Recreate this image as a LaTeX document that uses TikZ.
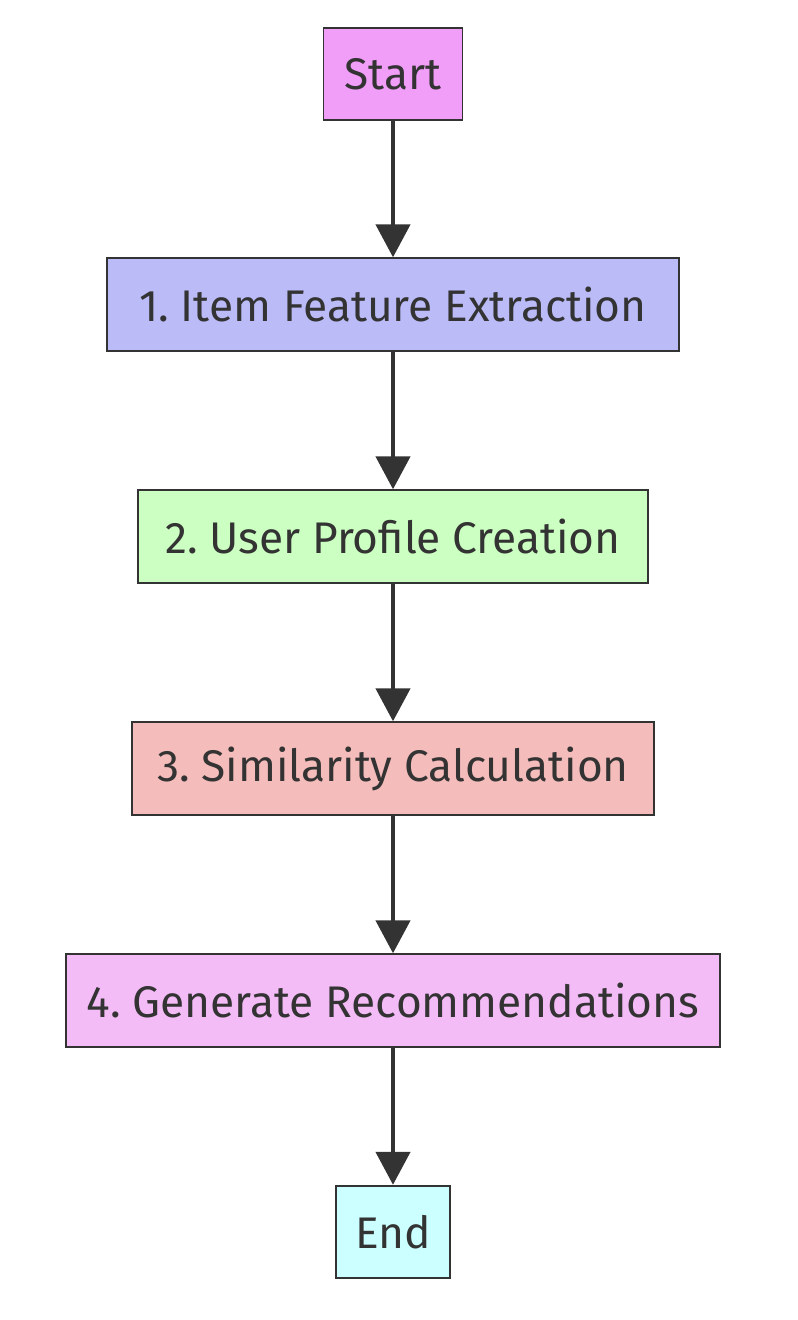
\documentclass[tikz,border=0pt]{standalone}
\usepackage{fontspec}
\setmainfont{Fira Sans}
\usetikzlibrary{arrows.meta,positioning}

\tikzset{
  stepbox/.style={draw=black!80, line width=1.1pt, text=black!80,
    minimum height=1.85cm, inner xsep=0.05cm, font=\fontsize{25.2}{30}\selectfont},
  flow/.style={draw=black!80, line width=2.6pt,
    -{Triangle[length=0.66cm,width=0.68cm]}, shorten >=0pt}
}

\definecolor{cstart}{HTML}{F09EF8}
\definecolor{citem}{HTML}{BBBBF8}
\definecolor{cuser}{HTML}{CCFFC2}
\definecolor{csim}{HTML}{F4BCBA}
\definecolor{cgen}{HTML}{F4BCF6}
\definecolor{cend}{HTML}{CCFFFF}

\begin{document}
\frenchspacing
\begin{tikzpicture}[x=0.02cm,y=-0.02cm]

  \useasboundingbox (0,0) rectangle (798,1320);

  \node[stepbox, fill=cstart, minimum width=2.78cm] at (393,74) (start) {Start};
  \node[stepbox, fill=citem, minimum width=11.44cm] at (393,304.5) (item) {1. Item Feature Extraction};
  \node[stepbox, fill=cuser, minimum width=10.2cm] at (393,536.5) (user) {2. User Profile Creation};
  \node[stepbox, fill=csim, minimum width=10.44cm] at (393,768.5) (sim) {3. Similarity Calculation};
  \node[stepbox, fill=cgen, minimum width=13.08cm] at (393,1000.5) (gen) {4. Generate Recommendations};
  \node[stepbox, fill=cend, minimum width=2.28cm] at (393,1232) (end) {End};

  \draw[flow] (start)--(item);
  \draw[flow] (item)--(user);
  \draw[flow] (user)--(sim);
  \draw[flow] (sim)--(gen);
  \draw[flow] (gen)--(end);

\end{tikzpicture}
\end{document}
